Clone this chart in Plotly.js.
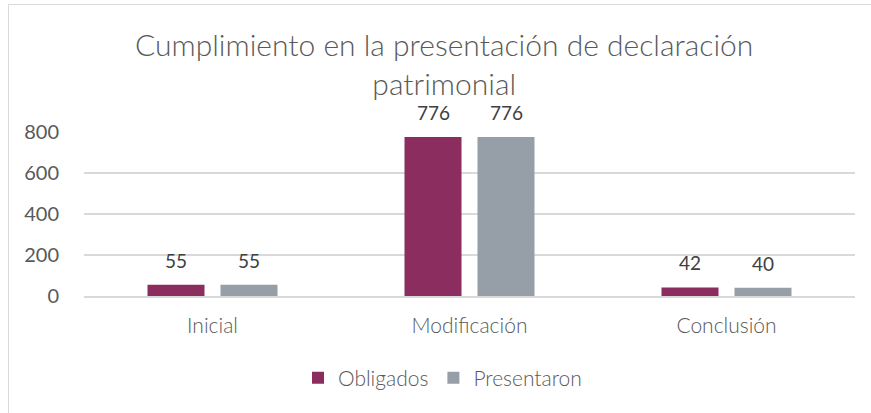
<!DOCTYPE html>
<html>
<head>
<meta charset="utf-8">
<script src="https://cdn.plot.ly/plotly-3.0.1.min.js"></script>
<style>
html,body{margin:0;padding:0;background:#fff;overflow:hidden;}
#frame{position:absolute;left:8px;top:4px;width:900px;height:500px;border:1.5px solid #d9d9d9;box-sizing:border-box;}
#chart{position:absolute;left:0;top:0;width:871px;height:413px;}
</style>
</head>
<body>
<div id="frame"></div>
<div id="chart"></div>
<script>
var categories = ["Inicial", "Modificación", "Conclusión"];
var obligados = [55, 776, 42];
var presentaron = [55, 776, 40];
var seriesNames = ["Obligados", "Presentaron"];
var tickVals = [0, 200, 400, 600, 800];

var colors = ["#8B2D5F", "#969FA8"];
var font = "Lato, 'Open Sans', sans-serif";

var traces = [obligados, presentaron].map(function(vals, i){
  return {type:"bar", name:seriesNames[i], x:categories, y:vals,
    marker:{color:colors[i]}, hoverinfo:"none"};
});

var annotations = [];
[obligados, presentaron].forEach(function(vals, i){
  vals.forEach(function(v, j){
    annotations.push({x:categories[j], y:v, xref:"x", yref:"y", text:String(v),
      showarrow:false, xshift:(i===0?-36.5:36.5), yanchor:"bottom", yshift:11,
      font:{family:font, size:19, color:"#404040"}});
  });
});

var layout = {
  width:871, height:413,
  margin:{l:84, r:16, t:132, b:117},
  paper_bgcolor:"rgba(0,0,0,0)", plot_bgcolor:"rgba(0,0,0,0)",
  title:{text:"Cumplimiento en la presentación de declaración<br>patrimonial",
    font:{family:font, size:30, color:"#595959", weight:300}, x:0.51, xanchor:"center",
    xref:"container", yref:"container", y:0.864, yanchor:"top"},
  barmode:"group", bargap:0.432, bargroupgap:0.219,
  xaxis:{showgrid:false, showline:true, linecolor:"#d9d9d9", linewidth:1.5,
    ticks:"outside", ticklen:10, tickcolor:"rgba(0,0,0,0)",
    tickfont:{family:font, size:21, color:"#595959", weight:300}, fixedrange:true},
  yaxis:{range:[0,800], tickvals:tickVals, showgrid:true, gridcolor:"#d9d9d9", gridwidth:1.5,
    zeroline:false, ticks:"outside", ticklen:20, tickcolor:"rgba(0,0,0,0)",
    tickfont:{family:font, size:20, color:"#595959"}, fixedrange:true},
  showlegend:true,
  legend:{orientation:"h", x:0.465, xanchor:"center", y:-0.5, yanchor:"middle",
    font:{family:font, size:21, color:"#595959", weight:300}, traceorder:"normal", itemwidth:30},
  annotations:annotations
};

Plotly.newPlot("chart", traces, layout, {displayModeBar:false, staticPlot:true});
</script>
</body>
</html>
